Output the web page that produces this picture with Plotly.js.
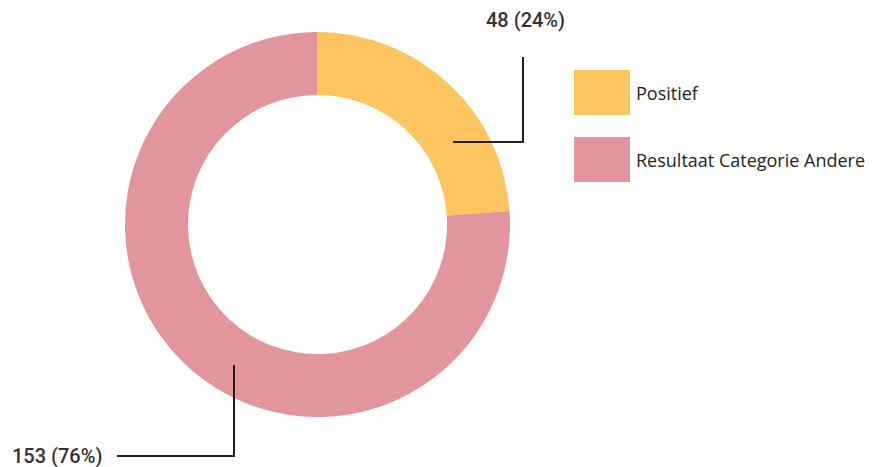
<!DOCTYPE html>
<html>
<head>
<meta charset="utf-8">
<script src="https://cdn.plot.ly/plotly-3.0.1.min.js"></script>
<style>html,body{margin:0;padding:0;background:#fff}#chart{width:876px;height:467px}</style>
</head>
<body>
<div id="chart"></div>
<script>
const categories = ["Positief", "Resultaat Categorie Andere"];
const values = [48, 153];
const colors = ["#FDC55F", "#E2959A"];

const W = 876, H = 467;
const px = x => x / W;
const py = y => 1 - y / H;

const total = values.reduce((a, b) => a + b, 0);
const labelTexts = values.map(v => v + " (" + Math.round(v / total * 100) + "%)");

// leader line geometry (pixels): [start x, start y, corner x, corner y, end x, end y], label position
const leaders = [
  {pts: [453, 142, 523, 142, 523, 57], lx: 525, ly: 20, anchor: "center"},
  {pts: [234, 365, 234, 456, 117, 456], lx: 104, ly: 456, anchor: "right"}
];

const shapes = [];
const annotations = [];
leaders.forEach((l, i) => {
  const p = l.pts;
  shapes.push({type: "path", xref: "paper", yref: "paper",
    path: `M ${px(p[0])} ${py(p[1])} L ${px(p[2])} ${py(p[3])} L ${px(p[4])} ${py(p[5])}`,
    line: {color: "#231F20", width: 2}});
  annotations.push({xref: "paper", yref: "paper", x: px(l.lx), y: py(l.ly),
    xanchor: l.anchor, yanchor: "middle", showarrow: false, text: labelTexts[i],
    font: {family: "Roboto", size: 20, color: "#333333", weight: 500}});
});

// legend
categories.forEach((c, i) => {
  const top = 70 + i * 67;
  shapes.push({type: "rect", xref: "paper", yref: "paper",
    x0: px(574), x1: px(630), y0: py(top), y1: py(top + 45),
    fillcolor: colors[i], line: {width: 0}});
  annotations.push({xref: "paper", yref: "paper", x: px(634), y: py(top + 23),
    xanchor: "left", yanchor: "middle", showarrow: false, text: c,
    font: {family: "Open Sans", size: 18, color: "#231F20"}});
});

const trace = {
  type: "pie",
  labels: categories,
  values: values,
  hole: 0.673,
  sort: false,
  direction: "clockwise",
  rotation: 0,
  textinfo: "none",
  hoverinfo: "label+value+percent",
  marker: {colors: colors, line: {width: 0}},
  domain: {x: [px(125), px(510)], y: [py(417), py(32)]},
  showlegend: false
};

Plotly.newPlot("chart", [trace], {
  width: W, height: H,
  margin: {l: 0, r: 0, t: 0, b: 0},
  paper_bgcolor: "#fff",
  showlegend: false,
  shapes: shapes,
  annotations: annotations
}, {displayModeBar: false, staticPlot: true});
</script>
</body>
</html>
